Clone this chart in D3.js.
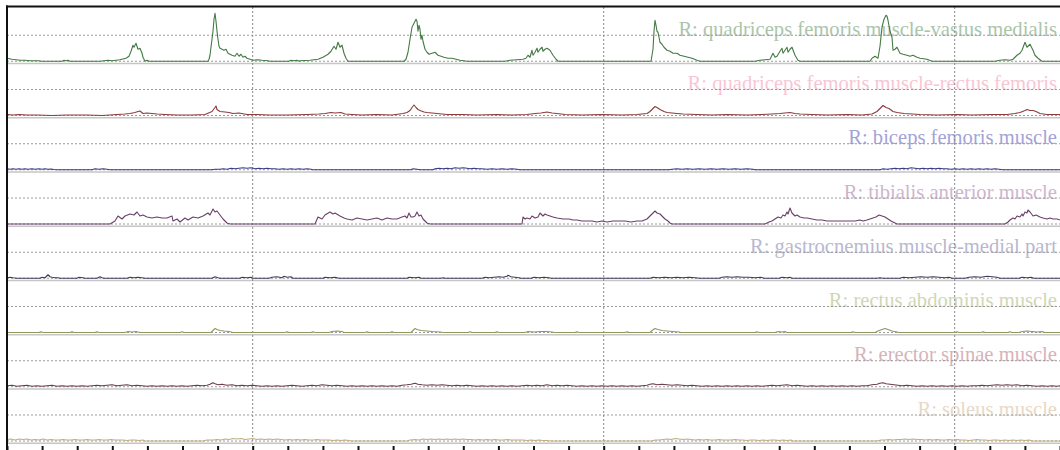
<!DOCTYPE html>
<html>
<head>
<meta charset="utf-8">
<script src="https://cdnjs.cloudflare.com/ajax/libs/d3/7.8.5/d3.min.js"></script>
<style>
  body { margin: 0; background: #fff; }
</style>
</head>
<body>
<div id="content"></div>
<script>
// Muscle channels, top to bottom
var muscles = [
  "R: quadriceps femoris muscle-vastus medialis",
  "R: quadriceps femoris muscle-rectus femoris",
  "R: biceps femoris muscle",
  "R: tibialis anterior muscle",
  "R: gastrocnemius muscle-medial part",
  "R: rectus abdominis muscle",
  "R: erector spinae muscle",
  "R: soleus muscle"
];
var lineColors = ["#447a44", "#8e3b3e", "#3b3b86", "#6b3f6b", "#3d3d5e", "#8c9a5c", "#6e3b4b", "#c4ac80"];
var labelColors = ["#abc5ab", "#f7c6d4", "#a3a3d8", "#cdb6cd", "#b8b8cf", "#cfd7b5", "#d6b3ba", "#e8d8c6"];

// Time axis (s)
var startTime = 0.6;
var endTime = 6.6;
var sampleRate = 175.5;
var tickTimes = [0.6, 0.8, 1.0, 1.2, 1.4, 1.6, 1.8, 2.0, 2.2, 2.4, 2.6, 2.8, 3.0, 3.2, 3.4, 3.6,
  3.8, 4.0, 4.2, 4.4, 4.6, 4.8, 5.0, 5.2, 5.4, 5.6, 5.8, 6.0, 6.2, 6.4, 6.6];
var gridTimes = [2, 4, 6];
var gridLevel = 26;
var maxLevel = 54;

// EMG envelopes: [sample index, amplitude]
var vastusMedialis = [[0,3],[5,2],[9,1.5],[13,1],[18,1],[23,0.5],[31,0.5],[35,0],[55,0],[57,1],[59,0.5],[61,1],[63,0],
  [93,0],[97,0.5],[101,1],[105,0.5],[109,1],[113,1.5],[115,2],[119,3],[122,5],[124,10],[126,16],[127,14],[129,18],
  [131,12],[133,13],[135,8],[136,4],[138,0],[140,1],[142,0],
  [201,0],[202,2],[203,6],[204,14],[206,30],[207,42],[208,48],[209,40],[210,30],[211,22],[212,15],[213,13],[215,12],
  [217,11],[219,12],[221,8],[223,7],[225,6],[228,5],[230,8],[232,5],[234,7],[236,4],[238,5],[240,3],[243,2],[246,1],
  [251,1.5],[255,1],[261,0.5],[263,0],[282,0],[284,1],[287,0.5],[290,1],[292,0],
  [293,0.5],[303,1],[311,2],[316,4],[321,7],[324,10],[327,15],[329,12],[331,19],[333,14],[335,16],[337,8],[339,3],[341,0],
  [397,0],[399,2],[401,9],[403,22],[405,34],[407,38],[409,42],[410,40],[411,30],[412,36],[413,32],[414,22],[415,26],
  [416,20],[418,12],[420,9],[422,7],[425,8],[428,9],[431,6],[434,5],[437,4],[441,3],[445,3],[449,2],[453,1],[457,0.5],[460,0],
  [498,0],[503,1],[510,1.5],[516,2],[519,3],[521,6],[523,4],[525,11],[526,6],[528,9],[530,13],[531,9],[533,12],[535,14],
  [536,10],[538,12],[540,13],[543,11],[546,6],[549,2],[551,0],
  [644,0],[646,12],[647,30],[648,41],[649,36],[650,30],[651,29],[652,24],[653,19],[655,17],[657,14],[660,11],[663,10],
  [666,8],[670,8],[673,6],[677,5],[681,4],[685,3],[690,1],[693,0],
  [748,0],[753,1],[758,1.5],[763,2],[766,8],[768,4],[770,5],[773,10],[775,13],[776,8],[778,11],[780,14],[781,9],[783,12],
  [785,14],[788,6],[791,1],[793,0],
  [863,0],[865,3],[868,5],[871,3],[873,15],[875,34],[877,42],[879,46],[880,45],[881,41],[883,30],[885,24],[886,11],[888,12],
  [890,14],[893,8],[896,7],[900,6],[903,5],[906,6],[910,4],[913,3],[920,2],[925,0],
  [988,0],[993,1],[998,1.5],[1003,1],[1006,2],[1010,6],[1013,8],[1015,11],[1018,19],[1020,14],[1023,17],[1026,11],
  [1028,6],[1031,3],[1035,0],[1053,0]];

var rectusFemoris = [[0,1],[6,0.5],[12,1],[20,0.5],[30,0.5],[45,0],[60,0.5],[80,0.5],[95,0],[110,1],[118,1.5],[123,2],
  [128,3],[131,4],[133,4.5],[136,2],[140,2.5],[145,2],[150,1.5],[158,1],[170,0.5],[185,0.5],[198,1],[205,4],[208,8],
  [209,9.5],[210,6],[213,4],[218,3.5],[222,3],[226,2],[232,2.5],[240,1],[250,1],[262,0.5],[280,0.5],[300,1],[312,1.5],
  [318,2],[324,3],[328,2.5],[334,3],[338,1.5],[345,1],[355,0.5],[370,1],[385,0.5],[396,2],[400,3],[403,5],[405,8],
  [407,10.5],[409,8],[411,6],[413,5],[417,3.5],[420,3],[425,2.5],[430,2],[440,1],[455,1],[470,0.5],[490,1],[505,0.5],
  [520,1],[528,2],[534,2.5],[540,3.5],[545,2.5],[550,2],[558,1],[575,0.5],[595,1],[615,0.5],[630,1],[640,2],[643,4],
  [646,7],[648,9],[650,8],[653,6],[657,4],[660,3],[665,2.5],[670,2],[676,1.5],[690,1],[705,0.5],[720,1],[740,0.5],
  [755,1],[765,1.5],[773,2],[778,2.5],[783,3],[788,2],[793,1.5],[805,1],[820,0.5],[840,1],[855,0.5],[865,1.5],[870,4],
  [873,7],[876,10],[879,8],[882,7],[886,4],[890,3],[897,2],[905,1.5],[913,1],[930,0.5],[950,1],[965,0.5],[985,1],
  [1000,1],[1008,2],[1013,3],[1018,5],[1020,6],[1023,5],[1026,5],[1029,4],[1033,2],[1040,1],[1053,1]];

var bicepsFemoris = [[0,1],[3,0.5],[6,1],[9,0.5],[12,1],[15,0.5],[18,1],[21,0.5],[25,1],[28,0.5],[32,1],[35,0.5],[38,1],
  [41,0.5],[44,0.8],[47,0.3],[50,0],[85,0],[88,1],[92,0.5],[96,1],[100,0.5],[103,0],[205,0],[208,0.5],[213,0.5],[216,1],
  [220,0.5],[224,1.5],[228,1],[232,1.5],[236,2],[240,1.5],[244,2],[248,1],[252,1.5],[256,1],[260,1.5],[264,1],[268,1],
  [272,0.5],[276,1],[280,0.5],[284,1],[288,0.5],[292,1],[296,0.5],[300,1],[304,0.5],[306,0],[404,0],[406,1],[410,0.5],
  [413,0],[426,0],[428,1],[432,1.5],[436,1],[440,1.5],[444,1],[448,2],[452,1.5],[456,2],[460,1.5],[463,1],[467,1.5],
  [471,1],[475,1],[480,0.5],[485,1],[490,0.5],[495,1],[500,0.5],[505,1],[510,0.5],[513,0],[662,0],[665,0.5],[670,1],
  [675,0.5],[680,1],[686,0.5],[692,1],[698,0.5],[704,1],[710,0.5],[716,1],[722,0.5],[728,1],[734,0.5],[740,1],[746,0.5],
  [748,0],[873,0],[876,1],[880,0.5],[884,1],[888,1.5],[892,1],[896,1.5],[900,1],[904,2],[908,1.5],[912,1],[916,1.5],
  [920,1],[924,1.5],[928,1],[932,1.5],[936,1],[940,1],[944,0.5],[948,1],[952,0.5],[956,1],[960,0.5],[964,1],[968,0.5],
  [972,1],[976,0.5],[980,1],[984,0.5],[988,1],[992,0.5],[996,0],[1053,0]];

var tibialisAnterior = [[0,0],[103,0],[108,3],[111,8],[115,5],[118,8],[123,10],[127,9],[130,12],[133,8],[136,9],[140,7],
  [145,6],[150,7],[155,6],[160,6],[165,8],[166,3],[170,5],[173,2],[178,6],[181,4],[186,7],[191,6],[196,8],[201,11],
  [203,9],[206,15],[208,12],[210,13],[213,9],[216,5],[220,1],[223,0],
  [308,0],[311,7],[315,5],[318,9],[323,12],[326,10],[328,11],[333,8],[337,6],[340,5],[345,4],[350,6],[355,5],[360,4],
  [365,5],[370,6],[375,4],[380,6],[385,5],[390,5],[395,7],[398,8],[400,6],[402,11],[404,7],[406,7],[408,8],[410,12],
  [412,8],[414,9],[416,5],[418,3],[420,1],[423,0],
  [515,0],[516,7],[518,5],[520,6],[523,5],[525,8],[528,6],[531,7],[533,11],[535,9],[536,8],[538,10],[540,9],[543,8],
  [546,7],[550,6],[556,5],[562,5],[566,4],[570,4],[575,3],[580,3],[585,3],[590,2],[595,3],[600,2],[606,3],[612,3],
  [618,3],[624,2],[630,3],[635,3],[640,5],[643,8],[646,11],[648,13],[650,11],[653,10],[656,7],[658,5],[661,3],[663,1],[665,0],
  [758,0],[762,2],[765,3],[768,5],[771,7],[774,6],[776,9],[778,8],[780,12],[781,10],[783,16],[785,11],[788,8],[790,9],
  [793,7],[797,6],[800,6],[805,5],[810,4],[815,4],[820,3],[826,3],[832,3],[838,3],[843,3],[848,3],[853,4],[856,3],
  [860,4],[863,5],[866,6],[869,7],[872,9],[875,8],[878,7],[881,5],[884,3],[886,2],[890,0],
  [998,0],[1001,2],[1003,4],[1006,6],[1008,5],[1010,8],[1013,7],[1015,10],[1016,8],[1018,12],[1020,11],[1021,14],
  [1023,12],[1026,8],[1029,9],[1033,7],[1036,6],[1040,5],[1043,6],[1046,5],[1050,5],[1053,4]];

var gastrocnemius = [[0,0.5],[3,1],[6,0.5],[10,0],[33,0],[35,1],[38,0.5],[41,3.5],[43,1.5],[45,1],[48,0.5],[51,0.5],
  [53,0],[70,0],[72,1],[76,0.5],[78,0],[90,0],[93,1.5],[95,0.5],[97,0],[120,0],[123,1],[127,0.5],[131,1],[135,0.5],
  [138,0],[205,0],[208,1.5],[211,0.5],[213,0],[233,0],[235,1],[240,0.5],[244,1],[246,0],[262,0],[265,1],[270,1.5],
  [275,0.5],[277,2],[280,1],[284,1.5],[286,0],[316,0],[318,1],[323,0.5],[328,1],[332,0],[400,0],[402,1],[408,0.5],
  [412,1],[414,0],[434,0],[436,0.5],[438,0],[475,0],[478,1],[482,0.5],[487,1],[492,1.5],[496,1],[500,2],[501,3],
  [504,1.5],[508,1],[512,0.5],[514,0],[524,0],[527,1],[532,0.5],[537,1],[542,0.5],[544,0],[643,0],[646,1],[652,0.5],
  [658,1],[664,0.5],[670,1],[676,0.5],[682,1],[688,0.5],[693,0],[712,0],[715,1],[720,1.5],[725,1],[730,1.5],[736,1],
  [742,1],[748,0.5],[754,1],[757,0],[772,0],[775,1],[780,0.5],[783,1],[785,0],[870,0],[873,0.5],[876,0],[893,0],
  [896,1],[902,0.5],[908,1],[914,1.5],[920,1],[926,1.5],[932,1],[938,0.5],[942,1],[945,0],[958,0],[962,1],[968,1.5],
  [974,1],[980,2],[985,1.5],[990,1],[993,0],[1012,0],[1015,1],[1020,0.5],[1024,1],[1027,0],[1053,0]];

var rectusAbdominis = [[0,0],[32,0],[34,0.8],[36,0],[63,0],[65,0.8],[67,0],[88,0],[90,0.8],[92,0],[118,0],[121,1],
  [125,0.5],[129,1],[133,0],[173,0],[175,0.8],[177,0],[204,0],[206,2],[208,4],[210,3],[213,2],[217,1.5],[222,1],
  [226,0],[278,0],[280,0.8],[282,0],[304,0],[306,0.8],[308,0],[322,0],[325,1],[330,1.5],[335,1],[337,0],[358,0],
  [360,0.8],[362,0],[383,0],[385,0.8],[387,0],[404,0],[406,2],[408,4],[410,3],[414,2],[420,1.5],[425,1],[433,0.5],
  [436,0],[461,0],[463,0.8],[465,0],[488,0],[490,0.8],[492,0],[518,0],[521,1],[527,0.5],[533,1],[540,1],[545,0.5],
  [547,0],[568,0],[570,0.8],[572,0],[618,0],[620,0.8],[622,0],[643,0],[645,2],[648,4],[651,3],[655,2],[660,1.5],
  [666,1],[672,0.5],[674,0],[748,0],[750,0.8],[752,0],[768,0],[771,1],[775,0.5],[778,1],[780,0],[844,0],[846,0.8],
  [848,0],[868,0],[871,1.5],[875,3],[878,4],[881,3],[885,1.5],[890,0.5],[892,0],[948,0],[950,0.8],[952,0],[974,0],
  [976,0.8],[978,0],[1001,0],[1003,0.8],[1005,0],[1012,0],[1015,1],[1020,1.5],[1025,1],[1030,0.5],[1035,1],[1038,0],[1053,0]];

var erectorSpinae = [[0,1],[5,1.5],[10,0.5],[15,1],[20,1.5],[25,0.5],[30,1],[35,0.5],[40,1],[45,1.5],[50,0.5],[55,1],
  [60,0.5],[65,1],[70,0.5],[75,1],[80,0.5],[85,1],[90,1.5],[95,1],[100,1.5],[105,2],[110,1],[115,1.5],[120,2],[125,1],
  [130,1.5],[135,1],[140,0.5],[145,1],[150,0.5],[155,1],[160,0.5],[165,1],[170,0.5],[175,1],[180,0.5],[185,1],
  [190,1.5],[195,1],[200,1.5],[203,2.5],[206,4],[208,3],[211,2],[215,2.5],[220,1.5],[225,2],[230,1],[235,1.5],
  [240,1],[245,1.5],[250,1],[255,0.5],[260,1],[265,0.5],[270,1],[275,0.5],[280,1],[285,1.5],[290,1],[295,0.5],
  [300,1],[305,1.5],[310,1],[315,2],[320,1.5],[325,1],[330,1.5],[335,1],[340,0.5],[345,1],[350,0.5],[355,1],
  [360,0.5],[365,1],[370,0.5],[375,1],[380,0.5],[385,1],[390,0.5],[395,1.5],[400,2],[404,2.5],[408,3.5],[411,2.5],
  [415,2],[420,1.5],[425,2],[430,1.5],[435,2],[440,1.5],[445,1],[450,1.5],[455,1],[460,1.5],[465,1],[470,0.5],
  [475,1],[480,0.5],[485,1],[490,0.5],[495,1],[500,0.5],[505,1],[510,0.5],[515,1],[520,1.5],[525,1],[530,1.5],
  [535,1],[540,2],[545,1],[550,1.5],[555,1],[560,1.5],[565,1],[570,0.5],[575,1],[580,0.5],[585,1],[590,0.5],
  [595,1],[600,0.5],[605,1],[610,0.5],[615,1],[620,0.5],[625,1],[630,0.5],[635,1],[640,1.5],[643,2.5],[646,3],
  [650,2],[655,2.5],[660,2],[665,1.5],[670,2],[675,1.5],[680,1],[685,1.5],[690,1],[695,0.5],[700,1],[705,0.5],
  [710,1],[715,0.5],[720,1],[725,0.5],[730,1],[735,0.5],[740,1],[745,0.5],[750,1],[755,0.5],[760,1],[765,1.5],
  [770,1],[775,1.5],[780,2],[785,1],[790,1.5],[795,1],[800,0.5],[805,1],[810,0.5],[815,1],[820,0.5],[825,1],
  [830,0.5],[835,1],[840,0.5],[845,1],[850,0.5],[855,1],[860,1],[865,2],[870,2.5],[873,3.5],[876,4],[879,3],
  [883,2.5],[887,2],[891,1.5],[895,1],[900,1.5],[905,1],[910,0.5],[915,1],[920,0.5],[925,1],[930,0.5],[935,1],
  [940,0.5],[945,1],[950,0.5],[955,1],[960,0.5],[965,1],[970,1],[975,1.5],[980,1],[985,1.5],[990,2],[995,1.5],
  [1000,2],[1005,1.5],[1010,2],[1015,1],[1020,1.5],[1025,1],[1030,0.5],[1035,1],[1040,0.5],[1045,1],[1050,0.5],[1053,1]];

var soleus = [[0,1.5],[4,2],[8,1],[12,2],[16,1.5],[20,2],[24,1],[28,1.5],[32,1],[36,2],[40,1],[44,1.5],[48,1],[52,1],
  [56,1.5],[60,1],[64,1],[68,1.5],[72,1],[76,1],[80,1.5],[84,1],[88,1],[92,1.5],[96,1],[100,1],[104,1.5],[108,1],
  [112,1],[116,1],[120,0.5],[124,1],[128,1],[132,0.5],[136,1],[138,0],[196,0],[200,1],[206,1],[210,1.5],[214,1],
  [218,2],[222,1.5],[226,2.5],[230,2],[234,2.5],[238,1.5],[242,2],[246,2.5],[250,1.5],[254,2],[258,1.5],[262,2],
  [266,1.5],[270,2],[274,1.5],[278,1],[282,1.5],[286,1],[290,1.5],[294,1],[298,1.5],[302,1],[306,1],[310,1.5],
  [314,1],[318,1],[322,1],[326,0.5],[330,1],[334,0.5],[338,1],[342,0.5],[344,0],[400,0],[403,1],[408,1.5],[412,1],
  [416,2],[420,1.5],[424,2],[428,1.5],[432,2],[436,1.5],[440,2],[444,1.5],[448,2],[452,1.5],[456,2],[460,1.5],
  [464,1.5],[468,1],[472,1.5],[476,1],[480,1.5],[484,1],[488,1.5],[492,1],[496,1],[500,1.5],[504,1],[508,1],[512,1],
  [516,1],[520,0.5],[524,1],[528,0.5],[532,1],[536,0.5],[540,0.5],[543,0],[645,0],[648,1],[652,1],[656,1.5],[660,2],
  [664,1.5],[668,2.5],[672,2],[676,1.5],[680,2],[684,1.5],[688,1],[692,1.5],[696,1],[700,1.5],[704,1],[708,1],
  [712,1.5],[716,1],[720,1],[724,1],[728,1.5],[732,1],[736,1],[740,0.5],[744,1],[748,1],[752,0.5],[756,1],[760,0.5],
  [764,1],[768,1],[772,0.5],[776,1],[780,0.5],[784,1],[786,0],[870,0],[874,1],[878,1],[882,1.5],[886,1],[890,1.5],
  [894,1.5],[898,2],[902,1.5],[906,2],[910,1.5],[914,1.5],[918,1],[922,1.5],[926,1],[930,1.5],[934,1],[938,1],
  [942,1.5],[946,1],[950,1.5],[954,1],[958,1],[962,0.5],[966,1],[970,1.5],[974,1],[978,1],[982,0.5],[986,1],[990,1],
  [994,0.5],[998,1],[1002,0.5],[1006,1],[1010,0.5],[1014,1],[1018,0.5],[1022,1],[1026,0],[1053,0]];

var signals = [vastusMedialis, rectusFemoris, bicepsFemoris, tibialisAnterior,
  gastrocnemius, rectusAbdominis, erectorSpinae, soleus];

// GLOBAL CONFIGS
var w = 1060;
var h = 450;
var plotLeft = 7;
var plotRight = 1060;
var plotTop = 7;
var rowH = 54.25;
var fontSize = 20.6;

var svg = d3.select("#content")
  .append("svg")
  .attr("width", w)
  .attr("height", h);

var x = d3.scaleLinear()
  .domain([startTime, endTime])
  .range([plotLeft, plotRight]);

function sampleTime(i) {
  return startTime + i / sampleRate;
}

function rowScale(r) {
  var base = plotTop + (r + 1) * rowH;
  return d3.scaleLinear().domain([0, maxLevel]).range([base, base - maxLevel]);
}

// One band per muscle: label, dotted levels, separator
muscles.forEach(function(name, r) {
  var y = rowScale(r);
  var g = svg.append("g").attr("class", "row");

  g.append("text")
    .text(name)
    .attr("x", plotRight - 3)
    .attr("y", y(gridLevel) + 0.5)
    .attr("text-anchor", "end")
    .attr("font-family", "'Liberation Serif', serif")
    .attr("font-size", fontSize)
    .attr("fill", labelColors[r]);

  g.selectAll("line.level")
    .data([0, gridLevel])
    .enter()
    .append("line")
    .attr("class", "level")
    .attr("x1", plotLeft)
    .attr("x2", plotRight)
    .attr("y1", function(d) { return y(d); })
    .attr("y2", function(d) { return y(d); })
    .attr("stroke", "#9a9a9a")
    .attr("stroke-width", 1)
    .attr("stroke-dasharray", "2,2");

  g.append("line")
    .attr("x1", plotLeft)
    .attr("x2", plotRight)
    .attr("y1", y(0) + 2.2)
    .attr("y2", y(0) + 2.2)
    .attr("stroke", "#c6c6c6")
    .attr("stroke-width", 1.5);
});

// Vertical grid
svg.selectAll("line.vgrid")
  .data(gridTimes)
  .enter()
  .append("line")
  .attr("class", "vgrid")
  .attr("x1", function(d) { return x(d); })
  .attr("x2", function(d) { return x(d); })
  .attr("y1", plotTop)
  .attr("y2", h)
  .attr("stroke", "#8a8a8a")
  .attr("stroke-width", 1)
  .attr("stroke-dasharray", "2,2");

// Draw signals
muscles.forEach(function(name, r) {
  var y = rowScale(r);
  var line = d3.line()
    .x(function(d) { return x(sampleTime(d[0])); })
    .y(function(d) { return y(d[1]); });
  svg.append("path")
    .datum(signals[r])
    .attr("d", line)
    .attr("fill", "none")
    .attr("stroke", lineColors[r])
    .attr("stroke-width", 1.1)
    .attr("stroke-linejoin", "round");
});

// Frame
svg.append("line")
  .attr("x1", plotLeft - 1).attr("x2", w)
  .attr("y1", plotTop - 0.5).attr("y2", plotTop - 0.5)
  .attr("stroke", "#111").attr("stroke-width", 2);
svg.append("line")
  .attr("x1", plotLeft).attr("x2", plotLeft)
  .attr("y1", plotTop - 1.5).attr("y2", h)
  .attr("stroke", "#111").attr("stroke-width", 2);

// Time ticks along the bottom (labels fall below the visible area)
var axis = svg.append("g")
  .attr("transform", "translate(0," + 446 + ")")
  .call(d3.axisBottom(x).tickValues(tickTimes).tickSize(6).tickFormat(""));
axis.select(".domain").remove();
axis.selectAll(".tick line").attr("stroke", "#111").attr("stroke-width", 2);
</script>
</body>
</html>
